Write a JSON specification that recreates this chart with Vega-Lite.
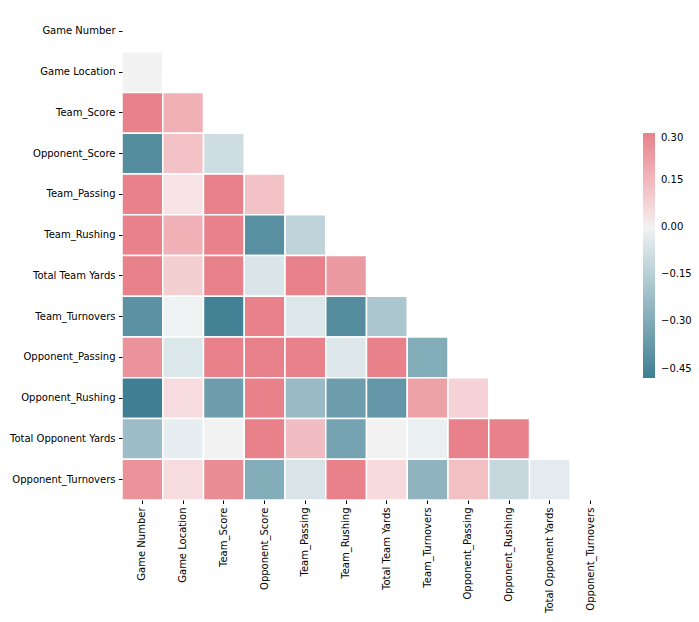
{
  "$schema": "https://vega.github.io/schema/vega-lite/v6.json",
  "autosize": {"type": "none"},
  "padding": {"left": 122, "top": 11, "right": 88, "bottom": 122},
  "width": 489,
  "height": 489,
  "background": "white",
  "config": {
    "view": {"stroke": null},
    "font": "DejaVu Sans",
    "axis": {"labelFont": "DejaVu Sans", "labelFontSize": 10, "labelColor": "black", "tickColor": "black", "tickSize": 3.5, "tickWidth": 1, "labelPadding": 3.5, "domain": false, "grid": false, "title": null}
  },
  "data": {"values": [
    {"row": "Game Location", "col": "Game Number", "value": 0.0},
    {"row": "Team_Score", "col": "Game Number", "value": 0.35},
    {"row": "Team_Score", "col": "Game Location", "value": 0.17},
    {"row": "Opponent_Score", "col": "Game Number", "value": -0.42},
    {"row": "Opponent_Score", "col": "Game Location", "value": 0.12},
    {"row": "Opponent_Score", "col": "Team_Score", "value": -0.09},
    {"row": "Team_Passing", "col": "Game Number", "value": 0.45},
    {"row": "Team_Passing", "col": "Game Location", "value": 0.03},
    {"row": "Team_Passing", "col": "Team_Score", "value": 0.5},
    {"row": "Team_Passing", "col": "Opponent_Score", "value": 0.12},
    {"row": "Team_Rushing", "col": "Game Number", "value": 0.32},
    {"row": "Team_Rushing", "col": "Game Location", "value": 0.17},
    {"row": "Team_Rushing", "col": "Team_Score", "value": 0.4},
    {"row": "Team_Rushing", "col": "Opponent_Score", "value": -0.41},
    {"row": "Team_Rushing", "col": "Team_Passing", "value": -0.13},
    {"row": "Total Team Yards", "col": "Game Number", "value": 0.5},
    {"row": "Total Team Yards", "col": "Game Location", "value": 0.085},
    {"row": "Total Team Yards", "col": "Team_Score", "value": 0.6},
    {"row": "Total Team Yards", "col": "Opponent_Score", "value": -0.056},
    {"row": "Total Team Yards", "col": "Team_Passing", "value": 0.8},
    {"row": "Total Team Yards", "col": "Team_Rushing", "value": 0.23},
    {"row": "Team_Turnovers", "col": "Game Number", "value": -0.4},
    {"row": "Team_Turnovers", "col": "Game Location", "value": -0.002},
    {"row": "Team_Turnovers", "col": "Team_Score", "value": -0.47},
    {"row": "Team_Turnovers", "col": "Opponent_Score", "value": 0.36},
    {"row": "Team_Turnovers", "col": "Team_Passing", "value": -0.05},
    {"row": "Team_Turnovers", "col": "Team_Rushing", "value": -0.42},
    {"row": "Team_Turnovers", "col": "Total Team Yards", "value": -0.185},
    {"row": "Opponent_Passing", "col": "Game Number", "value": 0.25},
    {"row": "Opponent_Passing", "col": "Game Location", "value": -0.05},
    {"row": "Opponent_Passing", "col": "Team_Score", "value": 0.35},
    {"row": "Opponent_Passing", "col": "Opponent_Score", "value": 0.5},
    {"row": "Opponent_Passing", "col": "Team_Passing", "value": 0.4},
    {"row": "Opponent_Passing", "col": "Team_Rushing", "value": -0.045},
    {"row": "Opponent_Passing", "col": "Total Team Yards", "value": 0.4},
    {"row": "Opponent_Passing", "col": "Team_Turnovers", "value": -0.29},
    {"row": "Opponent_Rushing", "col": "Game Number", "value": -0.48},
    {"row": "Opponent_Rushing", "col": "Game Location", "value": 0.05},
    {"row": "Opponent_Rushing", "col": "Team_Score", "value": -0.35},
    {"row": "Opponent_Rushing", "col": "Opponent_Score", "value": 0.4},
    {"row": "Opponent_Rushing", "col": "Team_Passing", "value": -0.23},
    {"row": "Opponent_Rushing", "col": "Team_Rushing", "value": -0.35},
    {"row": "Opponent_Rushing", "col": "Total Team Yards", "value": -0.38},
    {"row": "Opponent_Rushing", "col": "Team_Turnovers", "value": 0.21},
    {"row": "Opponent_Rushing", "col": "Opponent_Passing", "value": 0.077},
    {"row": "Total Opponent Yards", "col": "Game Number", "value": -0.225},
    {"row": "Total Opponent Yards", "col": "Game Location", "value": -0.02},
    {"row": "Total Opponent Yards", "col": "Team_Score", "value": 0.0},
    {"row": "Total Opponent Yards", "col": "Opponent_Score", "value": 0.5},
    {"row": "Total Opponent Yards", "col": "Team_Passing", "value": 0.135},
    {"row": "Total Opponent Yards", "col": "Team_Rushing", "value": -0.33},
    {"row": "Total Opponent Yards", "col": "Total Team Yards", "value": 0.0},
    {"row": "Total Opponent Yards", "col": "Team_Turnovers", "value": -0.012},
    {"row": "Total Opponent Yards", "col": "Opponent_Passing", "value": 0.45},
    {"row": "Total Opponent Yards", "col": "Opponent_Rushing", "value": 0.5},
    {"row": "Opponent_Turnovers", "col": "Game Number", "value": 0.25},
    {"row": "Opponent_Turnovers", "col": "Game Location", "value": 0.05},
    {"row": "Opponent_Turnovers", "col": "Team_Score", "value": 0.27},
    {"row": "Opponent_Turnovers", "col": "Opponent_Score", "value": -0.29},
    {"row": "Opponent_Turnovers", "col": "Team_Passing", "value": -0.06},
    {"row": "Opponent_Turnovers", "col": "Team_Rushing", "value": 0.32},
    {"row": "Opponent_Turnovers", "col": "Total Team Yards", "value": 0.055},
    {"row": "Opponent_Turnovers", "col": "Team_Turnovers", "value": -0.26},
    {"row": "Opponent_Turnovers", "col": "Opponent_Passing", "value": 0.13},
    {"row": "Opponent_Turnovers", "col": "Opponent_Rushing", "value": -0.11},
    {"row": "Opponent_Turnovers", "col": "Total Opponent Yards", "value": -0.03}
  ]},
  "mark": {"type": "rect", "stroke": "white", "strokeWidth": 1.5},
  "encoding": {
    "x": {"field": "col", "type": "nominal", "sort": null,
      "scale": {"domain": ["Game Number", "Game Location", "Team_Score", "Opponent_Score", "Team_Passing", "Team_Rushing", "Total Team Yards", "Team_Turnovers", "Opponent_Passing", "Opponent_Rushing", "Total Opponent Yards", "Opponent_Turnovers"], "paddingInner": 0, "paddingOuter": 0},
      "axis": {"labelAngle": -90, "orient": "bottom"}},
    "y": {"field": "row", "type": "nominal", "sort": null,
      "scale": {"domain": ["Game Number", "Game Location", "Team_Score", "Opponent_Score", "Team_Passing", "Team_Rushing", "Total Team Yards", "Team_Turnovers", "Opponent_Passing", "Opponent_Rushing", "Total Opponent Yards", "Opponent_Turnovers"], "paddingInner": 0, "paddingOuter": 0}},
    "color": {"field": "value", "type": "quantitative",
      "scale": {"domain": [-0.48, -0.003, 0, 0.003, 0.3], "range": ["#3f7f93", "#edf2f4", "#f2f2f2", "#f9edee", "#e8818a"], "clamp": true, "interpolate": "rgb"},
      "legend": {"title": null, "orient": "none", "legendX": 521, "legendY": 122, "direction": "vertical", "gradientLength": 245, "gradientThickness": 12, "gradientStrokeWidth": 0, "values": [0.3, 0.15, 0, -0.15, -0.3, -0.45], "format": ".2f", "labelFont": "DejaVu Sans", "labelFontSize": 10, "labelColor": "black", "labelOffset": 6, "labelOverlap": false}}
  }
}
